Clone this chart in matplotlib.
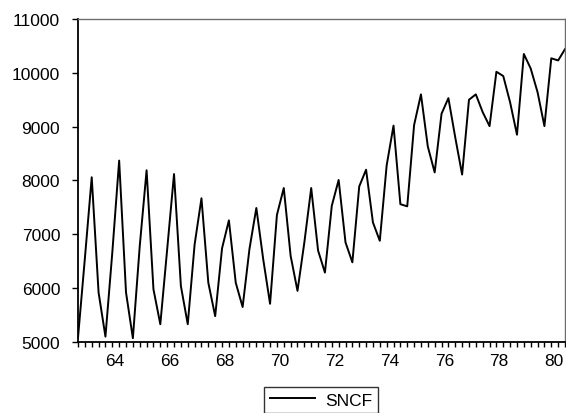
"""
SNCF passenger traffic, quarterly 1963-1980, EViews-style line chart.
"""

import matplotlib

matplotlib.use("Agg")
import matplotlib.pyplot as plt
import numpy as np
from matplotlib.ticker import FixedLocator, NullFormatter

plt.rcParams["font.family"] = ["Liberation Sans", "DejaVu Sans"]

START_YEAR = 1963
PER_YEAR = 4

sncf = [
    5080, 6550, 8060, 5920,
    5100, 6660, 8370, 5920,
    5070, 6780, 8190, 5980,
    5330, 6720, 8120, 6040,
    5330, 6810, 7670, 6100,
    5480, 6740, 7260, 6100,
    5650, 6730, 7490, 6540,
    5710, 7360, 7860, 6600,
    5950, 6850, 7860, 6700,
    6290, 7530, 8010, 6850,
    6480, 7890, 8200, 7220,
    6880, 8280, 9020, 7560,
    7520, 9030, 9600, 8630,
    8150, 9240, 9530, 8800,
    8110, 9500, 9600, 9270,
    9010, 10020, 9940, 9450,
    8850, 10350, 10080, 9640,
    9010, 10270, 10230, 10440,
]

year_labels = ["64", "66", "68", "70", "72", "74", "76", "78", "80"]
y_ticks = [5000, 6000, 7000, 8000, 9000, 10000, 11000]

x = START_YEAR + np.arange(len(sncf)) / PER_YEAR

fig = plt.figure(figsize=(5.66, 4.14), dpi=100)
ax = fig.add_axes([78 / 566, 71 / 414, 487 / 566, 323 / 414])

ax.plot(x, sncf, color="black", linewidth=1.4, label="SNCF")

ax.set_xlim(x[0], x[-1])
ax.set_ylim(5000, 11000)

# year labels sit a little after the first quarter of each year
label_pos = [1900 + int(s) + 0.35 for s in year_labels]
ax.xaxis.set_major_locator(FixedLocator(label_pos))
ax.set_xticklabels(year_labels)
ax.xaxis.set_minor_locator(FixedLocator(x))
ax.xaxis.set_minor_formatter(NullFormatter())
ax.tick_params(axis="x", which="major", length=0, pad=8, labelsize=12.5)
ax.tick_params(axis="x", which="minor", length=3.5, width=1.0, direction="out")

ax.set_yticks(y_ticks)
ax.set_yticklabels([str(v) for v in y_ticks])
ax.tick_params(axis="y", length=4.3, width=1.0, direction="out", pad=8.5, labelsize=12.5)

for side in ("left", "bottom"):
    ax.spines[side].set_color("black")
    ax.spines[side].set_linewidth(1.3)
for side in ("top", "right"):
    ax.spines[side].set_color("#6e6e6e")
    ax.spines[side].set_linewidth(1.0)

leg = fig.legend(
    loc="center",
    bbox_to_anchor=(321 / 566, 1 - 401 / 414),
    fontsize=12.5,
    frameon=True,
    fancybox=False,
    handlelength=2.6,
    borderpad=0.3,
    handletextpad=0.6,
)
leg.get_frame().set_edgecolor("black")
leg.get_frame().set_linewidth(1.0)

fig.savefig("out.png", dpi=100)
